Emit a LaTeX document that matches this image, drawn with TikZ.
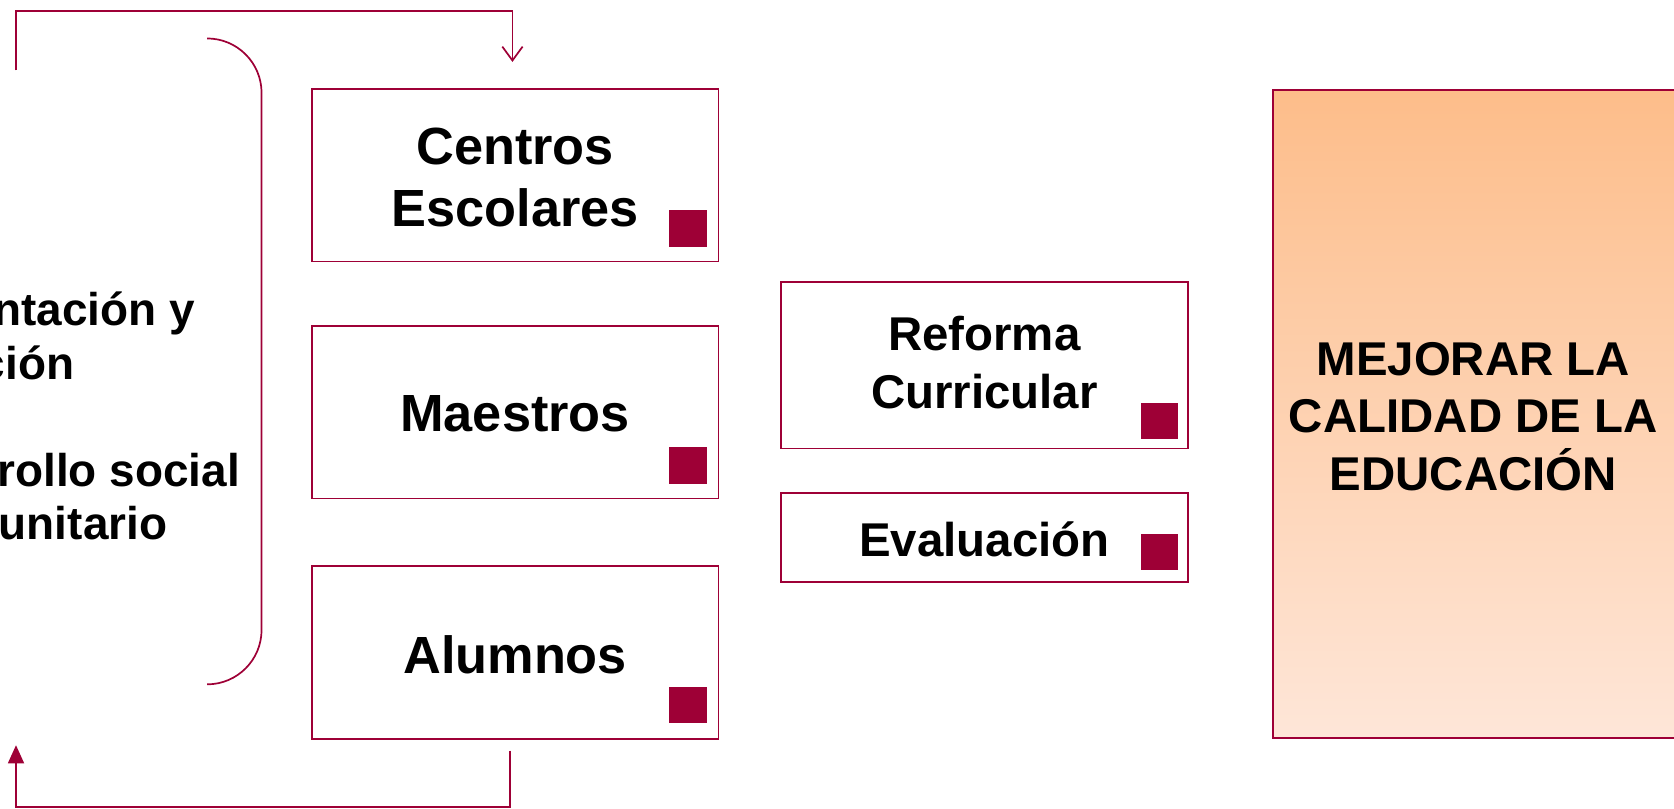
\documentclass[tikz,border=0pt]{standalone}
\usepackage{fontspec}
\setmainfont{Liberation Sans}
\usetikzlibrary{arrows.meta}
\definecolor{maroon}{HTML}{9E0036}
\definecolor{peachtop}{HTML}{FDBD8A}
\definecolor{peachbot}{HTML}{FEE6D8}
\begin{document}
\begin{tikzpicture}[x=0.5pt,y=-0.5pt,
  conn/.style={draw=maroon, line width=0.8pt},
  box/.style={draw=maroon, line width=0.85pt, fill=white, inner sep=0pt, minimum width=190.5pt},
  boxtext/.style={align=center, inner sep=0pt},
  bigfont/.style={font=\bfseries\fontsize{24.5}{29}\selectfont},
  midfont/.style={font=\bfseries\fontsize{22.2}{27}\selectfont},
  sidefont/.style={font=\bfseries\fontsize{21.5}{25.5}\selectfont},
  sq/.style={fill=maroon, draw=none, inner sep=0pt, minimum width=17.5pt, minimum height=17pt},
  sidetext/.style={sidefont, inner sep=0pt, anchor=base east}
]
\useasboundingbox (0,0) rectangle (1568,757);
\clip (0,0) rectangle (1568,757);

% left partial text
\node[sidetext] (l1) at (183,305) {ntación y};
\node[sidetext] (l2) at (70,355) {ción};
\node[sidetext] (l3) at (225,456) {rollo social};
\node[sidetext] (l4) at (157,505) {unitario};

% bracket
\draw[conn, rounded corners=25.5pt] (194,36) -- (245,36) -- (245,641) -- (194,641);

% boxes
\node[box, minimum height=81pt] (b1) at (482.5,164) {};
\node[box, minimum height=81pt] (b2) at (482.5,386) {};
\node[box, minimum height=81pt] (b3) at (482.5,611) {};
\node[box, minimum height=78pt] (b4) at (922,342) {};
\node[box, minimum height=41.5pt] (b5) at (922,503.5) {};

\node[boxtext, bigfont] (t1) at ([yshift=-1pt]b1.center) {Centros\\Escolares};
\node[boxtext, bigfont] (t2) at ([yshift=-1pt]b2.center) {Maestros};
\node[boxtext, bigfont] (t3) at ([yshift=-1pt]b3.center) {Alumnos};
\node[boxtext, midfont] (t4) at ([yshift=1.3pt]b4.center) {Reforma\\Curricular};
\node[boxtext, midfont] (t5) at ([yshift=-1pt]b5.center) {Evaluación};

% squares
\node[sq] (s1) at (644.5,214) {};
\node[sq] (s2) at (644.5,436) {};
\node[sq] (s3) at (644.5,660.5) {};
\node[sq] (s4) at (1086,394) {};
\node[sq] (s5) at (1086,517) {};

% big box
\node[draw=maroon, line width=0.85pt, top color=peachtop, bottom color=peachbot,
      minimum width=190pt, minimum height=303.5pt, inner sep=0pt] (big) at (1382,387.5) {};
\node[midfont, align=center, inner sep=0pt] (bigtext) at (1380,390) {MEJORAR LA\\CALIDAD DE LA\\EDUCACIÓN};

% connectors
\coordinate (tstart) at (15,66);
\coordinate (tcorner) at (480,10);
\coordinate (ttip) at (480,58);
\draw[conn, -{Straight Barb[length=6.5pt,width=9.5pt]}] (tstart) |- (tcorner) -- (ttip);

\coordinate (bstart) at (478,703);
\coordinate (bcorner) at (478,756);
\coordinate (btip) at (15,698);
\draw[conn, -{Triangle[length=8.5pt,width=7.5pt]}] (bstart) -- (bcorner) -| (btip);
\end{tikzpicture}
\end{document}
